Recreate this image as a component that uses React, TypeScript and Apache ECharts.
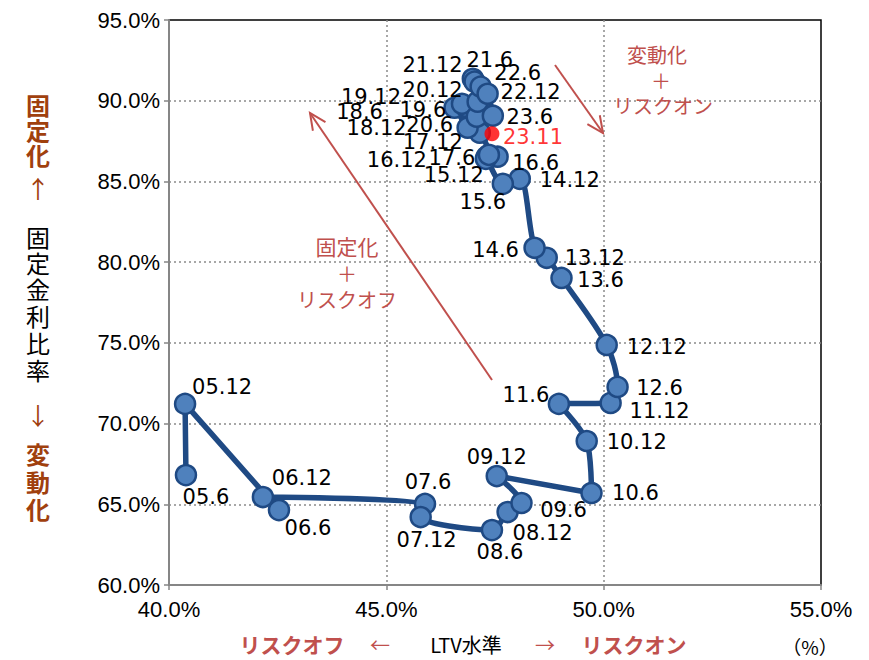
import React, { useEffect, useRef } from 'react';
import * as echarts from 'echarts';

// ---- Data ----
const pointLabels = [
  '05.6', '05.12', '06.6', '06.12', '07.6', '07.12', '08.6', '08.12', '09.6', '09.12',
  '10.6', '10.12', '11.6', '11.12', '12.6', '12.12', '13.6', '13.12', '14.6', '14.12',
  '15.6', '15.12', '16.6', '16.12', '17.6', '17.12', '18.6', '18.12', '19.6', '19.12',
  '20.6', '20.12', '21.6', '21.12', '22.6', '22.12', '23.6',
];
// LTV level (%)
const ltv = [
  40.39, 40.37, 42.53, 42.16, 45.89, 45.79, 47.43, 47.79, 48.11, 47.54,
  49.72, 49.61, 48.97, 50.16, 50.32, 50.07, 49.03, 48.69, 48.41, 48.07,
  47.68, 47.31, 47.56, 47.29, 47.36, 47.15, 46.57, 46.87, 46.83, 46.74,
  47.08, 47.10, 46.99, 47.03, 47.17, 47.33, 47.45,
];
// Fixed-rate ratio (%)
const fixedRatio = [
  66.81, 71.22, 64.64, 65.45, 65.02, 64.21, 63.40, 64.52, 65.08, 66.75,
  65.70, 68.92, 71.22, 71.28, 72.27, 74.87, 79.02, 80.27, 80.89, 85.16,
  84.85, 86.53, 86.53, 86.40, 86.65, 88.02, 89.57, 88.33, 89.63, 89.81,
  89.01, 89.94, 91.36, 91.18, 90.87, 90.43, 89.07,
];
const latestLabel = '23.11';
const latestLtv = 47.43;
const latestFixed = 87.95;

const xTicks = [40, 45, 50, 55];
const yTicks = [60, 65, 70, 75, 80, 85, 90, 95];

// ---- Layout: label offsets (label centre relative to marker centre, px) ----
const labelOffsets: number[][] = [
  [20, 22], [37, -17], [29, 18], [39, -19], [3, -22], [6, 23], [8, 22], [35, 21], [42, 7], [0, -19],
  [44, 0], [50, 1], [-33, -9], [49, 8], [42, 1], [50, 2], [39, 2], [48, 0], [-39, 2], [50, 1],
  [-20, 18], [-33, 18], [38, 6], [-89, 1], [-37, 3], [-47, 9], [-95, 4], [-91, 0], [-43, 3], [-91, -7],
  [-47, 8], [-45, -12], [17, -19], [-42, -17], [37, -14], [43, -2], [37, 1],
];
const latestOffset = [41, 3];

const RED = '#C0504D';
const BROWN = '#A0400E';
const CJK = '"Noto Sans CJK JP", "Noto Sans", sans-serif';

function txt(text: string, x: number, y: number, size: number, fill: string, bold = false, family = CJK) {
  return {
    type: 'text',
    x,
    y,
    z: 50,
    style: {
      text,
      fill,
      font: `${bold ? 'bold ' : ''}${size}px ${family}`,
      textAlign: 'center',
      textVerticalAlign: 'middle',
      align: 'center',
      verticalAlign: 'middle',
    },
  };
}

function arrow(x1: number, y1: number, x2: number, y2: number) {
  const dx = x2 - x1;
  const dy = y2 - y1;
  const len = Math.sqrt(dx * dx + dy * dy);
  const ux = dx / len;
  const uy = dy / len;
  const ah = 18;
  const ang = (25 * Math.PI) / 180;
  const c = Math.cos(ang);
  const s = Math.sin(ang);
  const b1 = [x2 - ah * (ux * c - uy * s), y2 - ah * (uy * c + ux * s)];
  const b2 = [x2 - ah * (ux * c + uy * s), y2 - ah * (uy * c - ux * s)];
  return [
    { type: 'line', z: 40, shape: { x1, y1, x2, y2 }, style: { stroke: RED, lineWidth: 2 } },
    { type: 'polyline', z: 40, shape: { points: [b1, [x2, y2], b2] }, style: { stroke: RED, lineWidth: 2, fill: null } },
  ];
}

const yTitle: [string, number, string, boolean][] = [
  ['固', 104, BROWN, true], ['定', 129, BROWN, true], ['化', 154, BROWN, true],
  ['↑', 187, BROWN, false],
  ['固', 236, '#000', false], ['定', 262, '#000', false], ['金', 288, '#000', false],
  ['利', 315, '#000', false], ['比', 342, '#000', false], ['率', 369, '#000', false],
  ['↓', 414, BROWN, false],
  ['変', 453, BROWN, true], ['動', 481, BROWN, true], ['化', 508, BROWN, true],
];

export default function App() {
  const ref = useRef<HTMLDivElement>(null);

  useEffect(() => {
    if (!ref.current) return;
    const chart = echarts.init(ref.current, undefined, { renderer: 'svg' });

    const graphic: any[] = [];
    yTitle.forEach(([ch, y, col, b]) => graphic.push(txt(ch, 38, y, 24, col, b)));
    graphic.push(txt('リスクオフ', 292, 644, 21, RED, true));
    graphic.push(txt('←', 380, 644, 20, RED, false));
    graphic.push(txt('LTV水準', 466, 644, 20, '#000', false));
    graphic.push(txt('→', 545, 644, 20, RED, false));
    graphic.push(txt('リスクオン', 634, 644, 21, RED, true));
    graphic.push(txt('（%）', 810, 646, 19, '#000', false));
    graphic.push(txt('変動化', 657, 54, 20, RED));
    graphic.push(txt('＋', 661, 80, 20, RED));
    graphic.push(txt('リスクオン', 663, 105, 20, RED));
    graphic.push(txt('固定化', 347, 246, 21, RED));
    graphic.push(txt('＋', 347, 273, 20, RED));
    graphic.push(txt('リスクオフ', 347, 299, 20, RED));
    graphic.push(...arrow(555, 65, 603, 133));
    graphic.push(...arrow(492, 380, 310, 113));

    const axisLabelFont = { color: '#000', fontSize: 22, fontFamily: '"Liberation Sans", Arial, sans-serif' };
    const split = {
      show: true,
      showMinLine: false,
      showMaxLine: false,
      lineStyle: { color: '#8a8a8a', type: [2, 3], width: 1.5 },
    };

    chart.setOption({
      animation: false,
      backgroundColor: '#fff',
      grid: {
        left: 169, right: 48, top: 20, bottom: 75,
        show: true, borderColor: '#000', borderWidth: 1.5, backgroundColor: 'transparent',
      },
      xAxis: {
        type: 'value',
        min: xTicks[0],
        max: xTicks[xTicks.length - 1],
        interval: xTicks[1] - xTicks[0],
        axisLine: { show: true, onZero: false, lineStyle: { color: '#868686', width: 2 } },
        axisTick: { show: true, length: 5, lineStyle: { color: '#868686', width: 1.5 } },
        splitLine: split,
        axisLabel: { ...axisLabelFont, margin: 13, formatter: (v: number) => v.toFixed(1) + '%' },
      },
      yAxis: {
        type: 'value',
        min: yTicks[0],
        max: yTicks[yTicks.length - 1],
        interval: yTicks[1] - yTicks[0],
        axisLine: { show: true, onZero: false, lineStyle: { color: '#868686', width: 2 } },
        axisTick: { show: true, length: 5, lineStyle: { color: '#868686', width: 1.5 } },
        splitLine: split,
        axisLabel: { ...axisLabelFont, margin: 9, formatter: (v: number) => v.toFixed(1) + '%' },
      },
      series: [
        {
          type: 'line',
          smooth: 0.3,
          symbol: 'circle',
          symbolSize: 20,
          z: 3,
          lineStyle: { color: '#1F4A84', width: 5.5 },
          itemStyle: { color: '#4F81BD', borderColor: '#1F4A84', borderWidth: 2.5 },
          emphasis: { disabled: true },
          label: {
            show: true,
            position: 'inside',
            formatter: (p: any) => p.name,
            color: '#000',
            fontSize: 21,
            fontFamily: '"DejaVu Sans", Verdana, sans-serif',
          },
          data: pointLabels.map((n, i) => ({
            name: n,
            value: [ltv[i], fixedRatio[i]],
            label: { offset: labelOffsets[i] },
          })),
        },
        {
          type: 'scatter',
          symbol: 'circle',
          symbolSize: 15,
          z: 5,
          itemStyle: { color: '#FF0000' },
          emphasis: { disabled: true },
          label: {
            show: true,
            position: 'inside',
            formatter: (p: any) => p.name,
            color: '#FF0000',
            fontSize: 21,
            fontFamily: '"DejaVu Sans", Verdana, sans-serif',
          },
          data: [{ name: latestLabel, value: [latestLtv, latestFixed], label: { offset: latestOffset } }],
        },
      ],
      graphic,
    });

    return () => chart.dispose();
  }, []);

  return (
    <div
      ref={ref}
      style={{ position: 'fixed', left: 0, top: 0, width: 869, height: 660, background: '#fff' }}
    />
  );
}
